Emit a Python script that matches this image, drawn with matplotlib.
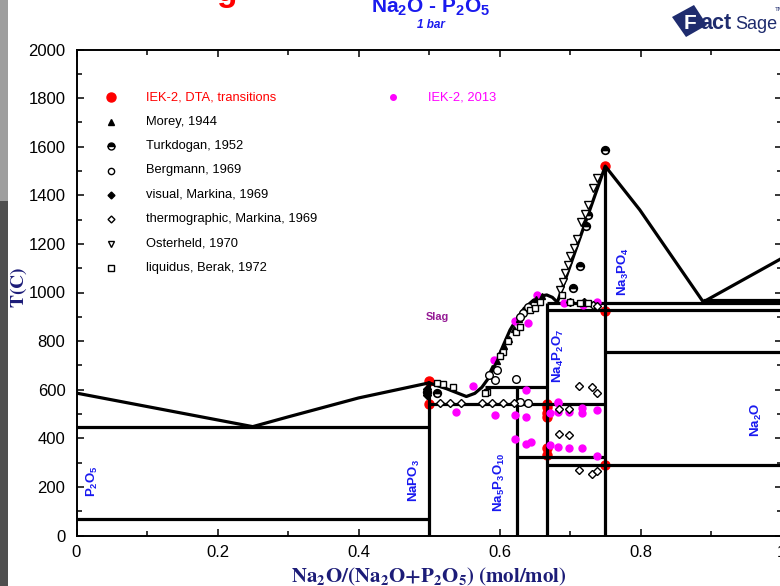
import matplotlib
matplotlib.use('Agg')
import matplotlib.pyplot as plt
from matplotlib.patches import Rectangle, Polygon
from matplotlib.ticker import MultipleLocator

plt.rcParams['font.family'] = ['Liberation Sans', 'DejaVu Sans']
plt.rcParams['mathtext.fontset'] = 'custom'
plt.rcParams['mathtext.rm'] = 'Liberation Sans'
plt.rcParams['mathtext.bf'] = 'Liberation Sans:bold'
plt.rcParams['mathtext.it'] = 'Liberation Sans:italic'

# ---------------- data ----------------
x_ticks = [0, 0.2, 0.4, 0.6, 0.8, 1.0]
x_tick_labels = ['0', '0.2', '0.4', '0.6', '0.8', '1']
y_ticks = [0, 200, 400, 600, 800, 1000, 1200, 1400, 1600, 1800, 2000]
y_tick_labels = ['0', '200', '400', '600', '800', '1000', '1200', '1400', '1600', '1800', '2000']

# liquidus curves
liq_left_x = [0.0, 0.25, 0.30, 0.40, 0.50]
liq_left_T = [586, 448, 488, 566, 628]
liq_mid_x = [0.5, 0.525, 0.553, 0.565, 0.575, 0.585, 0.595, 0.605, 0.615, 0.625, 0.635, 0.648, 0.66, 0.667, 0.675, 0.682]
liq_mid_T = [628, 604, 572, 585, 610, 650, 710, 780, 846, 893, 935, 968, 986, 990, 980, 960]
liq_right_x = [0.682, 0.75, 0.799, 0.889, 1.0]
liq_right_T = [960, 1520, 1340, 961, 1140]

# invariant (horizontal) lines
inv_T = [66, 448, 541, 612, 323, 290, 957, 926, 755, 968]
inv_x0 = [0.0, 0.0, 0.5, 0.579, 0.625, 0.6667, 0.6667, 0.6667, 0.75, 0.889]
inv_x1 = [0.5, 0.5, 0.75, 0.6667, 0.75, 1.0, 1.0, 1.0, 1.0, 1.0]

# compound (vertical) lines
comp_x = [0.5, 0.625, 0.6667, 0.75]
comp_Tmax = [628, 612, 957, 1520]

# experimental data
iek_dta_x = [0.5, 0.5, 0.6667, 0.6667, 0.6667, 0.6667, 0.6667, 0.6667, 0.75, 0.75, 0.75]
iek_dta_T = [635, 541, 541, 529, 505, 488, 360, 331, 1520, 924, 290]

iek2013_x = [0.539, 0.594, 0.622, 0.638, 0.638, 0.563, 0.592, 0.622, 0.640, 0.683, 0.717, 0.738,
             0.683, 0.699, 0.717, 0.738, 0.622, 0.638, 0.645, 0.672, 0.683, 0.699, 0.717, 0.738,
             0.672, 0.683, 0.692, 0.718, 0.653]
iek2013_T = [509, 496, 496, 489, 599, 615, 722, 884, 876, 551, 526, 516,
             509, 509, 505, 962, 396, 377, 386, 372, 365, 359, 359, 327,
             505, 545, 957, 948, 990]

morey_x = [0.590, 0.596, 0.601, 0.607, 0.613, 0.620, 0.628, 0.640, 0.652, 0.660]
morey_T = [690, 720, 750, 780, 810, 850, 890, 940, 975, 985]

turk_x = [0.749, 0.726, 0.723, 0.714, 0.704, 0.497, 0.511]
turk_T = [1586, 1319, 1274, 1109, 1017, 592, 585]

berg_x = [0.624, 0.594, 0.629, 0.640, 0.634, 0.629, 0.641, 0.596, 0.585]
berg_T = [643, 640, 551, 546, 917, 900, 942, 681, 660]

vis_mark_x = [0.497, 0.497, 0.497, 0.700, 0.720]
vis_mark_T = [603, 590, 578, 962, 962]

thermo_x = [0.713, 0.731, 0.738, 0.685, 0.698, 0.685, 0.698, 0.713, 0.731, 0.738, 0.732, 0.738,
            0.515, 0.530, 0.545, 0.575, 0.590, 0.605, 0.620]
thermo_T = [615, 610, 588, 519, 519, 418, 414, 270, 253, 267, 949, 944,
            545, 545, 545, 545, 545, 545, 545]

oster_x = [0.686, 0.690, 0.693, 0.697, 0.700, 0.705, 0.710, 0.716, 0.721, 0.726, 0.733, 0.738]
oster_T = [1010, 1045, 1080, 1115, 1150, 1185, 1220, 1290, 1325, 1362, 1430, 1472]

berak_x = [0.624, 0.629, 0.643, 0.650, 0.657, 0.688, 0.605, 0.582, 0.534, 0.520, 0.511, 0.714,
           0.612, 0.600, 0.579, 0.700, 0.725]
berak_T = [839, 859, 928, 935, 962, 990, 756, 592, 612, 623, 629, 958,
           800, 740, 585, 960, 958]

phase_names = [r'$\mathbf{P_2O_5}$', r'$\mathbf{NaPO_3}$', r'$\mathbf{Na_5P_3O_{10}}$',
               r'$\mathbf{Na_4P_2O_7}$', r'$\mathbf{Na_3PO_4}$', r'$\mathbf{Na_2O}$']

legend_labels = ['IEK-2, DTA, transitions', 'Morey, 1944', 'Turkdogan, 1952', 'Bergmann, 1969',
                 'visual, Markina, 1969', 'thermographic, Markina, 1969', 'Osterheld, 1970',
                 'liquidus, Berak, 1972']
legend2_label = 'IEK-2, 2013'

# ---------------- figure ----------------
W, H = 780, 586
fig = plt.figure(figsize=(W / 100, H / 100), dpi=100)
fig.patch.set_facecolor('white')

def fx(px):
    return px / W

def fy(py):
    return 1 - py / H

ax = fig.add_axes([fx(76.5), fy(535.5), 705 / W, 486 / H])
ax.set_xlim(0, 1)
ax.set_ylim(0, 2000)

LW = 2.3
for x0, x1, t in zip(inv_x0, inv_x1, inv_T):
    ax.plot([x0, x1], [t, t], color='black', lw=LW, zorder=3, solid_capstyle='butt')
for xc, tm in zip(comp_x, comp_Tmax):
    ax.plot([xc, xc], [0, tm], color='black', lw=LW, zorder=3, solid_capstyle='butt')
ax.plot(liq_left_x, liq_left_T, color='black', lw=LW, zorder=3)
ax.plot(liq_mid_x, liq_mid_T, color='black', lw=LW, zorder=3)
ax.plot(liq_right_x, liq_right_T, color='black', lw=LW, zorder=3)

# data markers
ax.plot(iek_dta_x, iek_dta_T, 'o', color='red', ms=6.5, mec='red', zorder=2, clip_on=False)
ax.plot(iek2013_x, iek2013_T, 'o', color='#ff00ff', ms=5, mec='#ff00ff', zorder=4)
ms_b = 5
ax.plot(morey_x, morey_T, '^', color='black', ms=ms_b, zorder=5)
ax.plot(turk_x, turk_T, 'o', ms=ms_b + 0.5, mfc='black', mec='black', fillstyle='top',
        markerfacecoloralt='white', mew=1.2, zorder=5)
ax.plot(berg_x, berg_T, 'o', ms=ms_b + 0.5, mfc='white', mec='black', mew=1.0, zorder=5)
ax.plot(vis_mark_x, vis_mark_T, 'D', ms=ms_b - 1, mfc='black', mec='black', zorder=5)
ax.plot(thermo_x, thermo_T, 'D', ms=ms_b - 1, mfc='white', mec='black', mew=1.0, zorder=5)
ax.plot(oster_x, oster_T, 'v', ms=ms_b + 0.5, mfc='white', mec='black', mew=1.0, zorder=5)
ax.plot(berak_x, berak_T, 's', ms=ms_b, mfc='white', mec='black', mew=1.0, zorder=5)

# phase labels
blue = '#1818f0'
lab_kw = dict(color=blue, fontsize=9.5, rotation=90, ha='center', va='center', zorder=6)
ax.text(0.022, 225, phase_names[0], **lab_kw)
ax.text(0.479, 228, phase_names[1], **lab_kw)
ax.text(0.600, 220, phase_names[2], **lab_kw)
ax.text(0.684, 741, phase_names[3], **lab_kw)
ax.text(0.776, 1085, phase_names[4], **lab_kw)
ax.text(0.965, 475, phase_names[5], **lab_kw)
ax.text(0.512, 898, 'Slag', color='#951a95', fontsize=7.8, fontweight='bold',
        ha='center', va='center')

# ticks
ax.set_xticks(x_ticks)
ax.set_xticklabels(x_tick_labels)
ax.set_yticks(y_ticks)
ax.set_yticklabels(y_tick_labels)
ax.xaxis.set_minor_locator(MultipleLocator(0.1))
ax.yaxis.set_minor_locator(MultipleLocator(100))
ax.tick_params(which='both', direction='in', top=True, right=True, width=1.1, color='black')
ax.tick_params(which='major', length=5, labelsize=12)
ax.tick_params(which='minor', length=3.5)
ax.tick_params(axis='y', pad=8)
ax.tick_params(axis='x', pad=7)
for s in ax.spines.values():
    s.set_linewidth(1.4)

navy = '#1c1c78'
ax.set_xlabel(r'$\mathbf{Na_2O/(Na_2O{+}P_2O_5)\ (mol/mol)}$', color=navy, fontsize=15,
              math_fontfamily='stix', labelpad=0)
ax.xaxis.set_label_coords(0.5, -0.063)
ax.set_ylabel(r'$\mathbf{T(C)}$', color=navy, fontsize=14, math_fontfamily='stix')
ax.yaxis.set_label_coords((29 - 76.5) / 705, 0.51)

# legend (manual)
mk_x = (111 - 76.5) / 705
tx_x = (146.5 - 76.5) / 705
row_y = [(535.5 - (97.3 + 24.4 * i)) / 486 for i in range(len(legend_labels))]
leg_styles = [
    dict(marker='o', ms=6.5, mfc='red', mec='red'),
    dict(marker='^', ms=4.5, mfc='black', mec='black'),
    dict(marker='o', ms=5, mfc='black', mec='black', fillstyle='top', markerfacecoloralt='white'),
    dict(marker='o', ms=4.5, mfc='white', mec='black'),
    dict(marker='D', ms=3.5, mfc='black', mec='black'),
    dict(marker='D', ms=3.5, mfc='white', mec='black'),
    dict(marker='v', ms=5, mfc='white', mec='black'),
    dict(marker='s', ms=4, mfc='white', mec='black'),
]
for i, (lab, st) in enumerate(zip(legend_labels, leg_styles)):
    ax.plot([mk_x], [row_y[i]], linestyle='none', transform=ax.transAxes, clip_on=False, **st)
    ax.text(tx_x, row_y[i], lab, transform=ax.transAxes, fontsize=9.3, va='center', ha='left',
            color='red' if i == 0 else 'black')
ax.plot([(392.7 - 76.5) / 705], [row_y[0]], 'o', ms=4, mfc='#ff00ff', mec='#ff00ff',
        transform=ax.transAxes)
ax.text((428 - 76.5) / 705, row_y[0], legend2_label, transform=ax.transAxes, fontsize=9.3,
        va='center', ha='left', color='#ff00ff')

# ---------------- page decorations ----------------
fig.patches.append(Rectangle((0, fy(201)), fx(7.5), 201 / H, transform=fig.transFigure,
                             facecolor='#9e9e9e', edgecolor='none', zorder=-5))
fig.patches.append(Rectangle((0, 0), fx(7.5), fy(201), transform=fig.transFigure,
                             facecolor='#4f4f4f', edgecolor='none', zorder=-5))

title_blue = '#1a1aee'
fig.text(fx(431), fy(13), r'$\mathbf{Na_2O}$ - $\mathbf{P_2O_5}$', color=title_blue, fontsize=15,
         fontweight='bold', ha='center', va='baseline')
fig.text(fx(431), fy(28), '1 bar', color=title_blue, fontsize=8.5, fontweight='bold',
         style='italic', ha='center', va='baseline')
fig.text(fx(227), fy(0.5), 'g', color='red', fontsize=24, fontweight='bold', ha='center',
         va='baseline')

# FactSage logo
logo_navy = '#1f2c6e'
fig.patches.append(Polygon([(fx(672), fy(17)), (fx(694), fy(5)), (fx(707), fy(25)),
                            (fx(686), fy(37))], closed=True, transform=fig.transFigure,
                           facecolor=logo_navy, edgecolor='none'))
fig.text(fx(690), fy(29), 'F', color='white', fontsize=15, fontweight='bold', ha='center',
         va='baseline')
fig.text(fx(700), fy(29), 'act', color=logo_navy, fontsize=15.5, fontweight='bold', ha='left',
         va='baseline')
fig.text(fx(735), fy(29), 'Sage', color=logo_navy, fontsize=13, ha='left', va='baseline')
fig.text(fx(775), fy(11), 'TM', color=logo_navy, fontsize=4.5, ha='left', va='baseline')

fig.savefig('out.png', dpi=100)
